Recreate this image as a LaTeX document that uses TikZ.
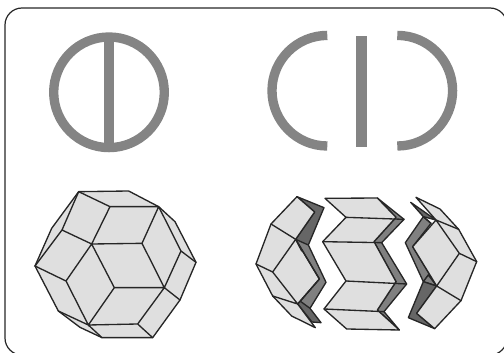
\documentclass[tikz,border=0pt]{standalone}
\definecolor{facegray}{HTML}{DFDFDF}
\definecolor{ringgray}{HTML}{848484}
\definecolor{sidegray}{HTML}{808080}
\definecolor{deepgray}{HTML}{666666}
\tikzset{
 face/.style={fill=facegray,draw=black!85,line width=1pt,line join=round},
 side/.style={fill=sidegray,draw=black!85,line width=1pt,line join=round},
 deep/.style={fill=deepgray,draw=black!85,line width=1pt,line join=round},
 edge/.style={draw=black!85,line width=1pt,line cap=round},
 ring/.style={draw=ringgray,line width=7pt},
 bar/.style={fill=ringgray},
}
\begin{document}
\begin{tikzpicture}[x=0.75pt,y=0.75pt,yscale=-1]
\useasboundingbox (0,0) rectangle (504,353);
\clip (0,0) rectangle (504,353);
\draw[black!85,line width=0.9pt,rounded corners=12.75pt] (5,8) rectangle (507,355);
% top left
\draw[ring] (109,92.3) circle (55.3);
\fill[bar] (104.3,37) rectangle (114,148);
% top right
\draw[ring] (327.3,35.4) arc[start angle=270,end angle=90,radius=55.3];
\fill[bar] (356.3,36) rectangle (366.7,147.3);
\draw[ring] (397.3,35.4) arc[start angle=-90,end angle=90,radius=55.3];
% full polyhedron
\begin{scope}[shift={(0,170)},scale=1/3]
\coordinate (A) at (236,65); \coordinate (B) at (330,110); \coordinate (C) at (476,110);
\coordinate (D) at (275,222); \coordinate (E) at (426,220); \coordinate (F) at (186,180);
\coordinate (G) at (105,288); \coordinate (H) at (198,333); \coordinate (I) at (343,353);
\coordinate (J) at (493,353); \coordinate (K) at (265,465); \coordinate (L) at (413,462);
\coordinate (M) at (458,503); \coordinate (N) at (306,503); \coordinate (O) at (540,390);
\coordinate (P) at (588,277); \coordinate (Q) at (543,243);
\coordinate (R) at (386,63); \coordinate (S) at (525,155); \coordinate (T) at (155,175);
\coordinate (U) at (175,423); \coordinate (V) at (240,472);
\end{scope}
\path[face] (A)--(R)--(C)--(S)--(P)--(O)--(M)--(N)--(V)--(U)--(G)--(T)--cycle;
\draw[edge] (A)--(B)--(C) (A)--(F)--(D)--(B) (C)--(E)--(D) (F)--(G)--(H)--(D)
 (D)--(I)--(J)--(E) (H)--(K)--(I) (J)--(L)--(K)--(N) (L)--(M) (J)--(O) (C)--(Q)--(J) (Q)--(P) (U)--(K);
% left piece
\begin{scope}[shift={(240,170)},scale=1/3]
\coordinate (a) at (171,80); \coordinate (b) at (224,126); \coordinate (c) at (93,162);
\coordinate (d) at (167,208); \coordinate (e) at (48,282); \coordinate (f) at (98,306);
\coordinate (g) at (238,327); \coordinate (h) at (173,402); \coordinate (i) at (98,378);
\coordinate (j) at (155,438); \coordinate (k) at (226,473);
\coordinate (l) at (252,113); \coordinate (m) at (205,225); \coordinate (n) at (185,243);
\coordinate (o) at (258,337); \coordinate (p) at (210,415); \coordinate (q) at (180,393);
\coordinate (r) at (243,458); \coordinate (x) at (216,456);
\end{scope}
\path[deep] (a)--(l)--(m)--(n)--(d)--(b)--cycle;
\path[side] (d)--(m)--(o)--(p)--(h)--(g)--(n)--cycle;
\path[deep] (q)--(p)--(r)--(x)--(h)--cycle;
\path[face] (a)--(b)--(d)--(g)--(h)--(k)--(j)--(i)--(e)--(c)--cycle;
\draw[edge] (c)--(d)--(f)--(e) (f)--(h)--(g)--(d) (i)--(h) (d)--(n);
% middle piece
\begin{scope}[shift={(240,170)},scale=1/3]
\coordinate (m1) at (255,85); \coordinate (m2) at (318,142); \coordinate (m3) at (248,215);
\coordinate (m4) at (318,333); \coordinate (m5) at (252,417); \coordinate (m6) at (320,477);
\end{scope}
\begin{scope}[shift={(360,170)},scale=1/3]
\coordinate (n1) at (52,84); \coordinate (n2) at (108,142); \coordinate (n3) at (42,215);
\coordinate (n4) at (108,335); \coordinate (n5) at (52,420); \coordinate (n6) at (118,480);
\coordinate (d1) at (132,148); \coordinate (d2) at (65,218); \coordinate (d3) at (140,342);
\coordinate (d4) at (72,425);
\end{scope}
\path[side] (n1)--(d1)--(d2)--(d3)--(d4)--(n6)--(n5)--(n4)--(n3)--(n2)--cycle;
\path[face] (m1)--(n1)--(n2)--(n3)--(n4)--(n5)--(n6)--(m6)--(m5)--(m4)--(m3)--(m2)--cycle;
\draw[edge] (m2)--(d1) (m3)--(d2) (m4)--(d3) (m5)--(d4);
% right piece
\begin{scope}[shift={(360,170)},scale=1/3]
\coordinate (r1) at (168,82); \coordinate (r2) at (240,117); \coordinate (r3) at (296,178);
\coordinate (r4) at (350,275); \coordinate (r5) at (303,392); \coordinate (r6) at (224,476);
\coordinate (r7) at (170,430); \coordinate (r8) at (230,348); \coordinate (r9) at (298,250);
\coordinate (r10) at (228,150); \coordinate (r11) at (158,230);
\coordinate (s1) at (152,97); \coordinate (s2) at (190,140); \coordinate (s3) at (136,218);
\coordinate (s4) at (190,335); \coordinate (s5) at (145,443); \coordinate (s6) at (205,315);
\coordinate (t) at (213,160);
\end{scope}
\path[deep] (s1)--(r10)--(s2)--cycle;
\path[side] (s2)--(t)--(r11)--(r8)--(s6)--(s4)--(s3)--cycle;
\path[side] (s6)--(r8)--(s4)--cycle;
\path[deep] (s4)--(r8)--(r7)--(r6)--(s5)--cycle;
\path[face] (r1)--(r2)--(r3)--(r4)--(r5)--(r6)--(r7)--(r8)--(r11)--(r10)--cycle;
\draw[edge] (r10)--(r3) (r10)--(r9)--(r8)--(r5) (r9)--(r4) (s2)--(t);
\end{tikzpicture}
\end{document}
